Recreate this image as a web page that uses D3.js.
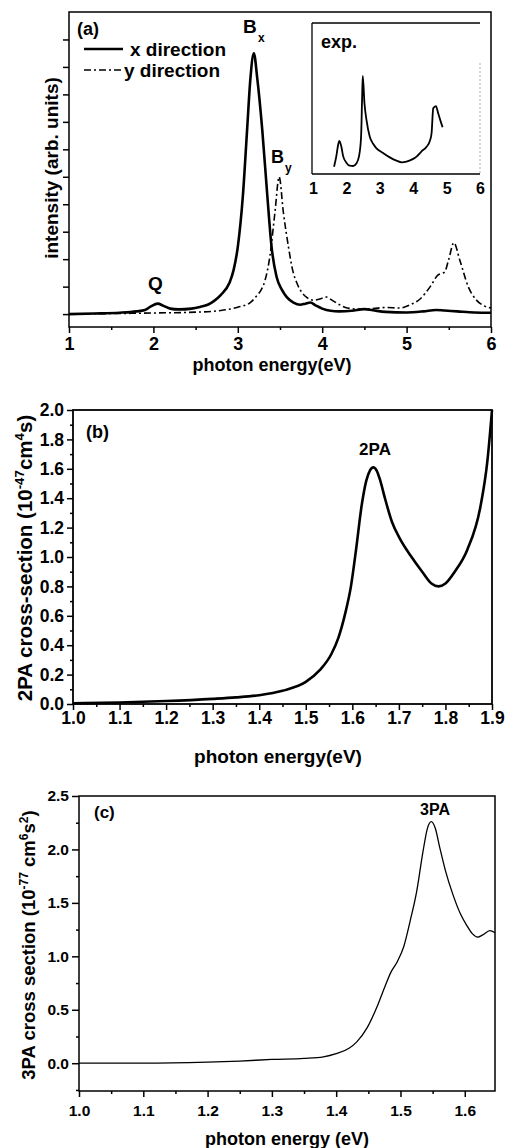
<!DOCTYPE html>
<html><head><meta charset="utf-8">
<script src="https://cdn.jsdelivr.net/npm/d3@7"></script>
<style>
body{margin:0;background:#fff}
svg{display:block}
text{font-family:"Liberation Sans",Arial,Helvetica,sans-serif;font-weight:bold;fill:#000}
</style></head><body>
<svg id="chart" width="506" height="1148"></svg>
<script>
// ---------- data ----------
const xDirEnergy = [1.0,1.3,1.6,1.8,1.9,1.97,2.05,2.12,2.2,2.3,2.45,2.55,2.65,2.72,2.8,2.9,2.95,3.0,3.06,3.11,3.15,3.19,3.23,3.29,3.35,3.4,3.46,3.52,3.58,3.66,3.74,3.8,3.86,3.92,4.0,4.1,4.2,4.35,4.5,4.6,4.75,5.0,5.2,5.35,5.45,5.6,5.8,6.0];
const xDirIntensity = [0.0,0.02,0.05,0.1,0.15,0.28,0.38,0.3,0.2,0.17,0.2,0.26,0.35,0.48,0.7,1.13,1.6,2.45,4.3,6.7,8.6,9.5,8.6,6.7,4.3,2.45,1.35,0.9,0.62,0.42,0.34,0.38,0.42,0.32,0.2,0.12,0.1,0.12,0.18,0.14,0.08,0.06,0.1,0.15,0.13,0.1,0.06,0.05];
const yDirEnergy = [1.0,1.5,2.0,2.5,2.8,3.0,3.14,3.22,3.28,3.32,3.38,3.44,3.49,3.54,3.6,3.65,3.7,3.76,3.82,3.9,3.97,4.05,4.12,4.2,4.3,4.45,4.6,4.75,4.92,5.05,5.16,5.28,5.37,5.45,5.5,5.56,5.63,5.73,5.83,5.92,6.0];
const yDirIntensity = [0.0,0.02,0.04,0.07,0.13,0.25,0.4,0.65,0.9,1.2,2.1,3.7,5.0,3.7,2.45,1.6,1.13,0.78,0.6,0.5,0.55,0.62,0.5,0.35,0.22,0.18,0.2,0.24,0.22,0.35,0.55,1.0,1.42,1.53,2.0,2.6,1.97,1.0,0.5,0.3,0.22];
const expEnergy = [1.63,1.7,1.75,1.79,1.85,1.9,2.0,2.1,2.2,2.3,2.38,2.44,2.47,2.49,2.54,2.6,2.7,2.8,2.9,3.1,3.3,3.5,3.66,3.8,4.0,4.1,4.25,4.4,4.5,4.55,4.6,4.68,4.75,4.82,4.88];
const expIntensity = [0.48,1.2,1.9,2.2,1.8,1.2,0.75,0.55,0.53,0.7,1.2,2.5,5.0,6.5,4.7,3.6,2.47,2.0,1.7,1.39,1.1,0.88,0.77,0.82,1.0,1.15,1.5,1.8,2.2,2.7,4.35,4.5,4.0,3.5,3.1];
const tpaEnergy = [1.0,1.1,1.2,1.3,1.35,1.4,1.45,1.5,1.53,1.555,1.57,1.585,1.597,1.608,1.62,1.63,1.638,1.645,1.652,1.66,1.67,1.685,1.703,1.725,1.75,1.77,1.785,1.8,1.82,1.847,1.875,1.89,1.9];
const tpaSigma = [0.005,0.01,0.02,0.035,0.045,0.06,0.09,0.15,0.23,0.34,0.45,0.62,0.8,1.05,1.35,1.52,1.59,1.61,1.59,1.52,1.4,1.24,1.12,1.01,0.9,0.82,0.8,0.82,0.9,1.05,1.34,1.65,2.0];
const thpaEnergy = [1.0,1.1,1.2,1.25,1.3,1.35,1.38,1.4,1.42,1.432,1.448,1.465,1.476,1.485,1.495,1.505,1.515,1.525,1.535,1.542,1.548,1.554,1.561,1.57,1.582,1.593,1.603,1.612,1.62,1.628,1.639,1.647];
const thpaSigma = [0.0,0.0,0.01,0.02,0.035,0.045,0.06,0.09,0.14,0.2,0.33,0.55,0.72,0.85,0.95,1.09,1.33,1.6,1.98,2.2,2.26,2.2,2.02,1.8,1.57,1.4,1.29,1.21,1.18,1.2,1.24,1.22];

const aXTicks = [1,2,3,4,5,6];
const aXMinor = [1.5,2.5,3.5,4.5,5.5];
const aYTicks = [0,1,2,3,4,5,6,7,8,9,10];
const insetXTicks = [1,2,3,4,5,6];
const bXTicks = [1.0,1.1,1.2,1.3,1.4,1.5,1.6,1.7,1.8,1.9];
const bXMinor = [1.05,1.15,1.25,1.35,1.45,1.55,1.65,1.75,1.85];
const bYTicks = [0.0,0.2,0.4,0.6,0.8,1.0,1.2,1.4,1.6,1.8,2.0];
const bYMinor = [0.1,0.3,0.5,0.7,0.9,1.1,1.3,1.5,1.7,1.9];
const cXTicks = [1.0,1.1,1.2,1.3,1.4,1.5,1.6];
const cXMinor = [1.05,1.15,1.25,1.35,1.45,1.55];
const cYTicks = [0.0,0.5,1.0,1.5,2.0,2.5];
const cYMinor = [-0.25,0.25,0.75,1.25,1.75,2.25];

const svg = d3.select("#chart");
const zip = (xs, ys) => xs.map((x,i)=>[x, ys[i]]);

function frame(xs, ys, w) {
  const [x0,x1] = xs.range(), [y0,y1] = ys.range();
  svg.append("rect").attr("x",Math.min(x0,x1)).attr("y",Math.min(y0,y1))
    .attr("width",Math.abs(x1-x0)).attr("height",Math.abs(y1-y0))
    .attr("fill","none").attr("stroke","#000").attr("stroke-width",w||1.5);
}
function styleAxis(g, fs) {
  g.select(".domain").remove();
  g.selectAll(".tick line").attr("stroke","#000").attr("stroke-width",1.5);
  g.selectAll("text").attr("font-size",fs).attr("fill","#000")
    .style("font-family","'Liberation Sans',Arial,sans-serif").style("font-weight","bold");
}
function bottomAxis(xs, yPos, ticks, minor, fmt, fs, labelBase, majorLen) {
  const g = svg.append("g").attr("transform",`translate(0,${yPos})`)
    .call(d3.axisBottom(xs).tickValues(ticks).tickSize(majorLen).tickFormat(fmt));
  styleAxis(g, fs);
  g.selectAll("text").attr("y", labelBase).attr("dy", 0);
  if (minor) {
    const m = svg.append("g").attr("transform",`translate(0,${yPos})`)
      .call(d3.axisBottom(xs).tickValues(minor).tickSize(3).tickFormat(""));
    styleAxis(m, fs);
  }
}
function leftAxis(xPos, ys, ticks, minor, fmt, fs, pad, majorLen) {
  const g = svg.append("g").attr("transform",`translate(${xPos},0)`)
    .call(d3.axisLeft(ys).tickValues(ticks).tickSize(majorLen).tickPadding(pad).tickFormat(fmt));
  styleAxis(g, fs);
  if (minor) {
    const m = svg.append("g").attr("transform",`translate(${xPos},0)`)
      .call(d3.axisLeft(ys).tickValues(minor).tickSize(3).tickFormat(""));
    styleAxis(m, fs);
  }
}
function label(x, y, txt, fs, anchor) {
  return svg.append("text").attr("x",x).attr("y",y).attr("font-size",fs)
    .attr("text-anchor",anchor||"start").text(txt);
}
function vtitle(x, y, parts, fs) {
  const t = svg.append("text").attr("transform",`translate(${x},${y}) rotate(-90)`)
    .attr("text-anchor","middle").attr("font-size",fs);
  parts.forEach(p => {
    const s = t.append("tspan").text(p.t);
    if (p.sup) s.attr("font-size", fs*0.65).attr("dy", -fs*0.4);
    if (p.back) s.attr("dy", fs*0.4);
  });
}

// ---------- panel (a) ----------
const ax = d3.scaleLinear().domain([1,6]).range([69,491]);
const ay = d3.scaleLinear().domain([-0.47,11]).range([327,12]);
frame(ax, ay, 1.5);
bottomAxis(ax, 327, aXTicks, aXMinor, d3.format("d"), 18, 23, 6);
leftAxis(69, ay, aYTicks, null, "", 18, 3, 6);

const lineA = d3.line().x(d=>ax(d[0])).y(d=>ay(d[1])).curve(d3.curveMonotoneX);
svg.append("path").datum(zip(yDirEnergy,yDirIntensity)).attr("d",lineA)
  .attr("fill","none").attr("stroke","#000").attr("stroke-width",1.6).attr("stroke-dasharray","7,3,2,3");
svg.append("path").datum(zip(xDirEnergy,xDirIntensity)).attr("d",lineA)
  .attr("fill","none").attr("stroke","#000").attr("stroke-width",2.6);

label(77, 35, "(a)", 18);
svg.append("line").attr("x1",84).attr("x2",123).attr("y1",49).attr("y2",49).attr("stroke","#000").attr("stroke-width",2.6);
label(130, 56, "x direction", 19);
svg.append("line").attr("x1",84).attr("x2",121).attr("y1",70).attr("y2",70).attr("stroke","#000").attr("stroke-width",1.6).attr("stroke-dasharray","7,3,2,3");
label(124, 77, "y direction", 19);
label(148, 290, "Q", 19);
label(243, 33, "B", 19); label(258, 42, "x", 12);
label(271, 163, "B", 18); label(285, 172, "y", 12);
vtitle(58, 168, [{t:"intensity (arb. units)"}], 19);
label(272, 371, "photon energy(eV)", 18, "middle");

// inset
const ix = d3.scaleLinear().domain([1,6]).range([313,480]);
const iy = d3.scaleLinear().domain([0,10]).range([174,23]);
svg.append("line").attr("x1",ix.range()[0]-1).attr("x2",ix.range()[1]).attr("y1",iy(10)).attr("y2",iy(10)).attr("stroke","#000").attr("stroke-width",1.3);
svg.append("line").attr("x1",ix.range()[0]-1).attr("x2",ix.range()[0]-1).attr("y1",iy(10)).attr("y2",iy(0)).attr("stroke","#000").attr("stroke-width",1.3);
svg.append("line").attr("x1",ix.range()[0]-1).attr("x2",ix.range()[1]).attr("y1",iy(0)).attr("y2",iy(0)).attr("stroke","#000").attr("stroke-width",1.5);
svg.append("line").attr("x1",ix.range()[1]).attr("x2",ix.range()[1]).attr("y1",iy(10)+40).attr("y2",iy(0)).attr("stroke","#999").attr("stroke-width",0.8).attr("stroke-dasharray","2,2");
const ig = svg.append("g").attr("transform",`translate(0,${iy(0)})`)
  .call(d3.axisBottom(ix).tickValues(insetXTicks).tickSize(0).tickFormat(d3.format("d")));
styleAxis(ig, 16);
ig.selectAll("text").attr("y", 20).attr("dy", 0);
const lineI = d3.line().x(d=>ix(d[0])).y(d=>iy(d[1])).curve(d3.curveMonotoneX);
svg.append("path").datum(zip(expEnergy,expIntensity)).attr("d",lineI)
  .attr("fill","none").attr("stroke","#000").attr("stroke-width",1.8);
label(321, 48, "exp.", 18);

// ---------- panel (b) ----------
const bx = d3.scaleLinear().domain([1.0,1.9]).range([73,492]);
const by = d3.scaleLinear().domain([0,2.0]).range([704,410]);
frame(bx, by, 1.8);
bottomAxis(bx, 704, bXTicks, bXMinor, d3.format(".1f"), 17.5, 20, 6);
leftAxis(73, by, bYTicks, bYMinor, d3.format(".1f"), 17.5, 3, 6);
const lineB = d3.line().x(d=>bx(d[0])).y(d=>by(d[1])).curve(d3.curveMonotoneX);
svg.append("path").datum(zip(tpaEnergy,tpaSigma)).attr("d",lineB)
  .attr("fill","none").attr("stroke","#000").attr("stroke-width",2.6);
label(86, 438, "(b)", 18);
label(375, 455, "2PA", 17, "middle");
vtitle(32, 558, [{t:"2PA cross-section (10"},{t:"-47",sup:true},{t:"cm",back:true},{t:"4",sup:true},{t:"s)",back:true}], 20.5);
label(278, 763, "photon energy(eV)", 19, "middle");

// ---------- panel (c) ----------
const cx = d3.scaleLinear().domain([1.0,1.647]).range([79,495]);
const cy = d3.scaleLinear().domain([-0.26,2.5]).range([1091,796]);
frame(cx, cy, 1.5);
bottomAxis(cx, 1091, cXTicks, cXMinor, d3.format(".1f"), 15.5, 25, 6);
leftAxis(79, cy, cYTicks, cYMinor, d3.format(".1f"), 15.5, 3, 7);
const lineC = d3.line().x(d=>cx(d[0])).y(d=>cy(d[1])).curve(d3.curveMonotoneX);
svg.append("path").datum(zip(thpaEnergy,thpaSigma)).attr("d",lineC)
  .attr("fill","none").attr("stroke","#000").attr("stroke-width",1.3);
label(94, 818, "(c)", 17);
label(435, 815, "3PA", 16, "middle");
vtitle(35, 945, [{t:"3PA cross section (10"},{t:"-77",sup:true},{t:" cm",back:true},{t:"6",sup:true},{t:"s",back:true},{t:"2",sup:true},{t:")",back:true}], 18.5);
label(287, 1145, "photon energy (eV)", 18, "middle");
</script>
</body></html>
